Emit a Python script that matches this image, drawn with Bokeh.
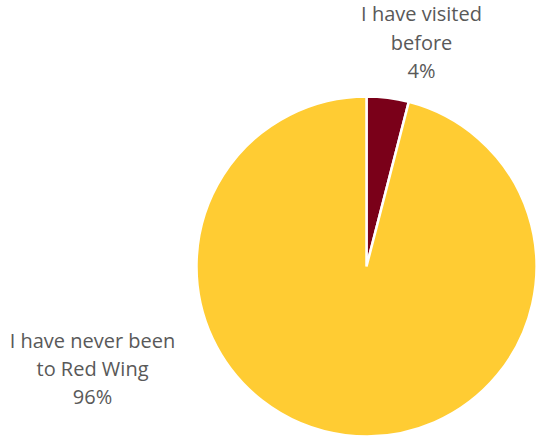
import math
from bokeh.plotting import figure
from bokeh.models import ColumnDataSource, Range1d
from bokeh.core.properties import value
from bokeh.embed import file_html
from bokeh.resources import INLINE

# ---- data ----
categories = ["I have visited before", "I have never been to Red Wing"]
percents = [4, 96]
colors = ["#7A0019", "#FFCC33"]
label_lines = [["I have visited", "before", "4%"],
               ["I have never been", "to Red Wing", "96%"]]

W, H = 536, 438
p = figure(width=W, height=H, output_backend="svg", toolbar_location=None,
           x_range=Range1d(0, W), y_range=Range1d(0, H), min_border=0)
p.axis.visible = False
p.grid.visible = False
p.outline_line_color = None
p.background_fill_color = "white"

# pie geometry (pixel units)
cx, cy, r = 366, H - 266, 170

total = sum(percents)
starts, ends = [], []
acc = 0.0
for v in percents:
    a0 = math.pi / 2 - 2 * math.pi * acc / total
    acc += v
    a1 = math.pi / 2 - 2 * math.pi * acc / total
    starts.append(a0)
    ends.append(a1)

src = ColumnDataSource(dict(cat=categories, pct=percents, start=starts, end=ends, color=colors))
p.wedge(x=cx, y=cy, radius=r, start_angle="start", end_angle="end", direction="clock",
        fill_color="color", line_color="white", line_width=2.5, source=src)

# labels (line centres)
label_pos = [(421, [13, 42, 70]), (92, [340, 368, 396])]
for (lx, ys), lines in zip(label_pos, label_lines):
    p.text(x=[lx] * len(lines), y=[H - yy for yy in ys], text=lines,
           text_font=value("Open Sans"), text_font_size="20px", text_color="#595959",
           text_align="center", text_baseline="middle")

open("out.html", "w").write(file_html(p, INLINE))
